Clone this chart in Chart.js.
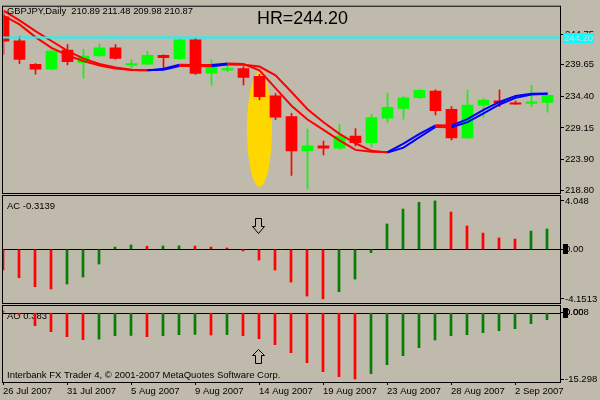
<!DOCTYPE html>
<html>
<head>
<meta charset="utf-8">
<script src="https://cdn.jsdelivr.net/npm/chart.js@4.4.0/dist/chart.umd.min.js"></script>
<style>
  html, body { margin: 0; padding: 0; background: #c0baac; }
  #wrap { position: relative; width: 600px; height: 400px; overflow: hidden; }
  #wrap canvas { position: absolute; left: 0; top: 0; }
</style>
</head>
<body>
<div id="wrap">
  <canvas id="mainChart" width="600" height="400"></canvas>
  <canvas id="acChart" width="600" height="400"></canvas>
  <canvas id="aoChart" width="600" height="400"></canvas>
</div>
<script>
// bars (daily, MT4 style incl. sunday bars)
const dates = ['26 Jul 2007', '27 Jul 2007', '29 Jul 2007', '30 Jul 2007', '31 Jul 2007',
  '1 Aug 2007', '2 Aug 2007', '3 Aug 2007', '5 Aug 2007', '6 Aug 2007', '7 Aug 2007', '8 Aug 2007',
  '9 Aug 2007', '10 Aug 2007', '12 Aug 2007', '13 Aug 2007', '14 Aug 2007', '15 Aug 2007',
  '16 Aug 2007', '17 Aug 2007', '19 Aug 2007', '20 Aug 2007', '21 Aug 2007', '22 Aug 2007',
  '23 Aug 2007', '24 Aug 2007', '26 Aug 2007', '27 Aug 2007', '28 Aug 2007', '29 Aug 2007',
  '30 Aug 2007', '31 Aug 2007', '2 Sep 2007', '3 Sep 2007', '4 Sep 2007'];
const dateTicks = [0, 4, 8, 12, 16, 20, 24, 28, 32];

const opens  = [247.65, 243.66, 239.75, 238.93, 242.10, 240.02, 241.12, 242.47, 239.58, 239.75, 241.22, 240.68, 243.83, 238.28, 238.77, 239.04, 237.74, 234.47, 231.04, 225.33, 226.15, 225.77, 227.78, 226.69, 230.77, 232.40, 234.20, 235.29, 232.24, 227.50, 232.95, 233.66, 233.33, 233.22, 233.38];
const highs  = [248.35, 244.38, 239.86, 242.15, 243.01, 242.20, 243.13, 243.01, 240.47, 241.94, 241.33, 243.99, 244.22, 240.47, 239.75, 239.37, 238.06, 234.85, 231.58, 228.97, 226.96, 229.69, 229.04, 231.42, 234.96, 234.36, 235.57, 235.50, 232.68, 235.40, 234.03, 235.50, 233.61, 236.22, 234.80];
const lows   = [241.38, 239.86, 238.11, 238.80, 239.65, 237.41, 241.09, 240.60, 239.09, 239.70, 238.93, 240.60, 238.06, 236.22, 238.51, 236.32, 233.82, 230.51, 221.25, 218.96, 224.63, 225.60, 226.15, 225.98, 230.11, 230.60, 234.03, 231.32, 227.13, 227.40, 230.93, 232.68, 233.05, 232.68, 231.75];
const closes = [243.57, 240.56, 238.93, 241.93, 240.19, 241.12, 242.47, 240.73, 239.86, 241.22, 240.84, 243.83, 238.23, 239.37, 239.04, 237.57, 234.36, 230.93, 225.33, 226.15, 225.77, 227.78, 226.69, 230.88, 232.56, 234.15, 235.40, 232.02, 227.50, 232.95, 233.77, 233.33, 233.12, 233.49, 234.59];

// the two moving averages (red when falling, blue when rising)
const maSlow = [248.68, 247.04, 245.25, 243.62, 241.98, 240.68, 239.78, 239.21, 238.83, 238.77, 238.83, 239.45, 239.44, 239.42, 239.70, 239.66, 239.37, 237.90, 235.13, 232.27, 230.10, 228.15, 226.59, 225.33, 225.04, 225.87, 227.62, 229.30, 229.26, 230.11, 231.58, 233.05, 234.15, 234.69, 234.82];
const maFast = [247.86, 246.39, 244.27, 242.47, 241.25, 240.27, 239.53, 239.04, 238.77, 238.72, 239.00, 239.65, 239.63, 239.62, 239.86, 239.78, 238.72, 235.78, 232.84, 230.55, 228.81, 227.08, 225.49, 225.17, 225.12, 226.52, 228.15, 229.58, 229.53, 230.60, 232.14, 233.49, 234.47, 234.82, 234.88];

const acValues = [-1.73, -2.38, -3.13, -3.32, -2.90, -2.32, -1.23, 0.19, 0.36, 0.26, 0.28, 0.29, 0.27, 0.19, 0.11, -0.14, -0.90, -1.73, -2.74, -3.91, -4.15, -3.55, -2.49, -0.28, 2.12, 3.37, 3.93, 4.05, 3.12, 1.95, 1.36, 0.95, 0.86, 1.53, 1.70];
const aoValues = [0.38, -0.55, -3.00, -4.38, -5.54, -6.23, -6.10, -5.31, -5.25, -5.54, -5.30, -5.08, -5.00, -5.15, -5.05, -5.31, -6.00, -7.38, -9.23, -11.54, -13.61, -14.77, -15.30, -14.07, -12.00, -9.92, -8.08, -6.30, -5.31, -5.08, -4.61, -4.15, -3.69, -2.54, -1.62];

const priceTicks = [218.80, 223.90, 229.15, 234.40, 239.65, 244.75];
const acTicks = [4.048, 0, -4.1513];
const acTickLabels = ['4.048', '0.00', '-4.1513'];
const aoTicks = [0.008, 0, -15.298];
const aoTickLabels = ['0.008', '0.00', '-15.298'];

const hrLevel = 244.20;
const markBar = 16;                 // highlighted bar (ellipse + arrows)
const ellipseRange = [238.47, 219.34];
const acArrowRange = [2.62, 1.36];   // [tail, tip]
const aoArrowRange = [-11.61, -8.38];

const BG = '#c0baac';
const FONT = '"Liberation Sans", Arial, sans-serif';
const BULL = '#00ff00', BEAR = '#ff0000';
const UP = '#0000ff', DOWN = '#ff0000';
const HIST_UP = '#008000', HIST_DOWN = '#ff0000';

Chart.defaults.font.family = FONT;
Chart.defaults.font.size = 9.5;
Chart.defaults.color = '#000';

const candleColors = opens.map((o, i) => closes[i] >= o ? BULL : BEAR);
const histColors = vals => vals.map((v, i) => i > 0 && v > vals[i - 1] ? HIST_UP : HIST_DOWN);
const slopeColor = ctx => ctx.p1.parsed.y > ctx.p0.parsed.y ? UP : DOWN;

function drawText(ctx, text, x, y, size, maxW) {
  ctx.save();
  ctx.font = size + 'px ' + FONT;
  ctx.fillStyle = '#000';
  ctx.textAlign = 'left';
  ctx.textBaseline = 'alphabetic';
  ctx.fillText(text, x, y, maxW);
  ctx.restore();
}

function drawBorder(chart) {
  const a = chart.chartArea, ctx = chart.ctx;
  ctx.save();
  ctx.strokeStyle = '#000';
  ctx.lineWidth = 1;
  ctx.strokeRect(Math.floor(a.left) - 0.5, a.top - 0.5, a.right - Math.floor(a.left) + 1, a.bottom - a.top + 1);
  ctx.restore();
}

function drawZeroBox(chart) {
  const y = chart.scales.y.getPixelForValue(0);
  const ctx = chart.ctx;
  ctx.save();
  ctx.fillStyle = '#000';
  ctx.fillRect(563, Math.round(y) - 5, 5, 10);
  ctx.restore();
}

// hollow arrow from tail (range[0]) to tip (range[1])
function drawArrow(chart, range) {
  const ctx = chart.ctx;
  const x = Math.round(chart.scales.x.getPixelForValue(markBar)) - 0.5;
  const y0 = Math.round(chart.scales.y.getPixelForValue(range[0])) + 0.5;
  const y1 = Math.round(chart.scales.y.getPixelForValue(range[1])) + 0.5;
  const dir = y1 > y0 ? 1 : -1;
  const neck = y0 + dir * 8;
  ctx.save();
  ctx.strokeStyle = '#000';
  ctx.lineWidth = 1;
  ctx.beginPath();
  ctx.moveTo(x - 3, y0);
  ctx.lineTo(x + 3, y0);
  ctx.lineTo(x + 3, neck);
  ctx.lineTo(x + 6, neck);
  ctx.lineTo(x, y1);
  ctx.lineTo(x - 6, neck);
  ctx.lineTo(x - 3, neck);
  ctx.closePath();
  ctx.stroke();
  ctx.restore();
}

function xAxis(left, show) {
  return {
    type: 'linear',
    display: show,
    min: 0,
    max: (560 - left) / 16,
    offset: false,
    bounds: 'data',
    afterBuildTicks: s => { s.ticks = dateTicks.map(v => ({ value: v })); },
    afterFit: s => { if (show) s.height = 18; },
    grid: { offset: false, drawOnChartArea: false, drawTicks: true, tickLength: 3, color: '#000' },
    border: { display: false },
    ticks: {
      autoSkip: false, maxRotation: 0, align: 'start', padding: 1,
      font: { size: 9.5 },
      callback: v => dates[v]
    }
  };
}

function yAxis(min, max, ticks, labels) {
  return {
    position: 'right',
    min: min, max: max,
    bounds: 'data',
    afterBuildTicks: s => { s.ticks = ticks.map(v => ({ value: v })); },
    afterFit: s => { s.width = 40; },
    grid: { drawOnChartArea: false, drawTicks: true, tickLength: 4, color: '#000' },
    border: { display: false },
    ticks: { autoSkip: false, padding: 1, font: { size: 9.5 }, callback: (v, i) => labels[i] }
  };
}

const common = {
  responsive: false,
  animation: false,
  devicePixelRatio: 1,
  events: [],
  plugins: { legend: { display: false }, tooltip: { enabled: false } }
};

// ===== main price panel =====
const mainLeft = 3.5;
new Chart(document.getElementById('mainChart'), {
  type: 'bar',
  data: {
    datasets: [
      { type: 'line', data: maFast.map((v, i) => ({ x: i, y: v })), borderColor: DOWN, borderWidth: 2,
        pointRadius: 0, segment: { borderColor: slopeColor } },
      { type: 'line', data: maSlow.map((v, i) => ({ x: i, y: v })), borderColor: DOWN, borderWidth: 2,
        pointRadius: 0, segment: { borderColor: slopeColor } },
      { data: opens.map((o, i) => ({ x: i, y: [o, closes[i]] })), backgroundColor: candleColors,
        barThickness: 11, grouped: false },
      { data: lows.map((l, i) => ({ x: i, y: [l, highs[i]] })), backgroundColor: candleColors,
        barThickness: 1, grouped: false }
    ]
  },
  options: Object.assign({}, common, {
    layout: { padding: { left: mainLeft, right: 0, top: 3, bottom: 207 } },
    scales: {
      x: xAxis(mainLeft, false),
      y: yAxis(218.31, 249.33, priceTicks, priceTicks.map(v => v.toFixed(2)))
    }
  }),
  plugins: [{
    id: 'mainDeco',
    beforeDatasetsDraw(chart) {
      const ctx = chart.ctx, x = chart.scales.x, y = chart.scales.y;
      const cx = x.getPixelForValue(markBar);
      const t = y.getPixelForValue(ellipseRange[0]), b = y.getPixelForValue(ellipseRange[1]);
      ctx.save();
      ctx.fillStyle = '#ffd700';
      ctx.beginPath();
      ctx.ellipse(cx, (t + b) / 2, 12.5, (b - t) / 2, 0, 0, Math.PI * 2);
      ctx.fill();
      ctx.restore();
    },
    afterDatasetsDraw(chart) {
      const ctx = chart.ctx, a = chart.chartArea;
      const yh = chart.scales.y.getPixelForValue(hrLevel);
      ctx.save();
      ctx.strokeStyle = '#00ffff';
      ctx.lineWidth = 2;
      ctx.beginPath();
      ctx.moveTo(a.left - 1, yh);
      ctx.lineTo(a.right, yh);
      ctx.stroke();
      ctx.restore();
    },
    afterDraw(chart) {
      const ctx = chart.ctx, a = chart.chartArea;
      drawBorder(chart);
      const yh = chart.scales.y.getPixelForValue(hrLevel);
      ctx.save();
      ctx.fillStyle = '#00ffff';
      ctx.fillRect(a.right + 3, Math.round(yh) - 5, 31, 10);
      ctx.font = '9.5px ' + FONT;
      ctx.fillStyle = '#d8d8d8';
      ctx.textAlign = 'left';
      ctx.textBaseline = 'middle';
      ctx.fillText(hrLevel.toFixed(2), a.right + 4, Math.round(yh) + 0.5);
      ctx.restore();
      drawText(ctx, 'GBPJPY,Daily  210.89 211.48 209.98 210.87', 7, 14, 9.5, 186);
      drawText(ctx, 'HR=' + hrLevel.toFixed(2), 257, 24, 18, 91);
    }
  }]
});

// ===== AC panel =====
new Chart(document.getElementById('acChart'), {
  type: 'bar',
  data: {
    datasets: [{ data: acValues.map((v, i) => ({ x: i, y: v })), backgroundColor: histColors(acValues), barThickness: 2 }]
  },
  options: Object.assign({}, common, {
    layout: { padding: { left: 3, right: 0, top: 196, bottom: 97 } },
    scales: {
      x: xAxis(3, false),
      y: yAxis(-4.49, 4.46, acTicks, acTickLabels)
    }
  }),
  plugins: [{
    id: 'acDeco',
    beforeDatasetsDraw(chart) {
      const ctx = chart.ctx, a = chart.chartArea;
      const y0 = Math.round(chart.scales.y.getPixelForValue(0)) + 0.5;
      ctx.save();
      ctx.strokeStyle = '#000';
      ctx.lineWidth = 1;
      ctx.beginPath();
      ctx.moveTo(a.left, y0);
      ctx.lineTo(a.right, y0);
      ctx.stroke();
      ctx.restore();
    },
    afterDraw(chart) {
      drawBorder(chart);
      drawZeroBox(chart);
      drawArrow(chart, acArrowRange);
      drawText(chart.ctx, 'AC -0.3139', 7, 209, 9.5, 48);
    }
  }]
});

// ===== AO panel =====
new Chart(document.getElementById('aoChart'), {
  type: 'bar',
  data: {
    datasets: [{ data: aoValues.map((v, i) => ({ x: i, y: v })), backgroundColor: histColors(aoValues), barThickness: 2 }]
  },
  options: Object.assign({}, common, {
    layout: { padding: { left: 3, right: 0, top: 306, bottom: 0 } },
    scales: {
      x: xAxis(3, true),
      y: yAxis(-15.99, 1.55, aoTicks, aoTickLabels)
    }
  }),
  plugins: [{
    id: 'aoDeco',
    beforeDatasetsDraw(chart) {
      const ctx = chart.ctx, a = chart.chartArea;
      const y0 = Math.round(chart.scales.y.getPixelForValue(0)) + 0.5;
      ctx.save();
      ctx.strokeStyle = '#000';
      ctx.lineWidth = 1;
      ctx.beginPath();
      ctx.moveTo(a.left, y0);
      ctx.lineTo(a.right, y0);
      ctx.stroke();
      ctx.restore();
      drawText(ctx, 'AO 0.383', 7, 319, 9.5, 40);
    },
    afterDraw(chart) {
      drawBorder(chart);
      drawZeroBox(chart);
      drawArrow(chart, aoArrowRange);
      drawText(chart.ctx, 'Interbank FX Trader 4, \u00a9 2001-2007 MetaQuotes Software Corp.', 7, 377.5, 9.5, 290);
    }
  }]
});
</script>
</body>
</html>
